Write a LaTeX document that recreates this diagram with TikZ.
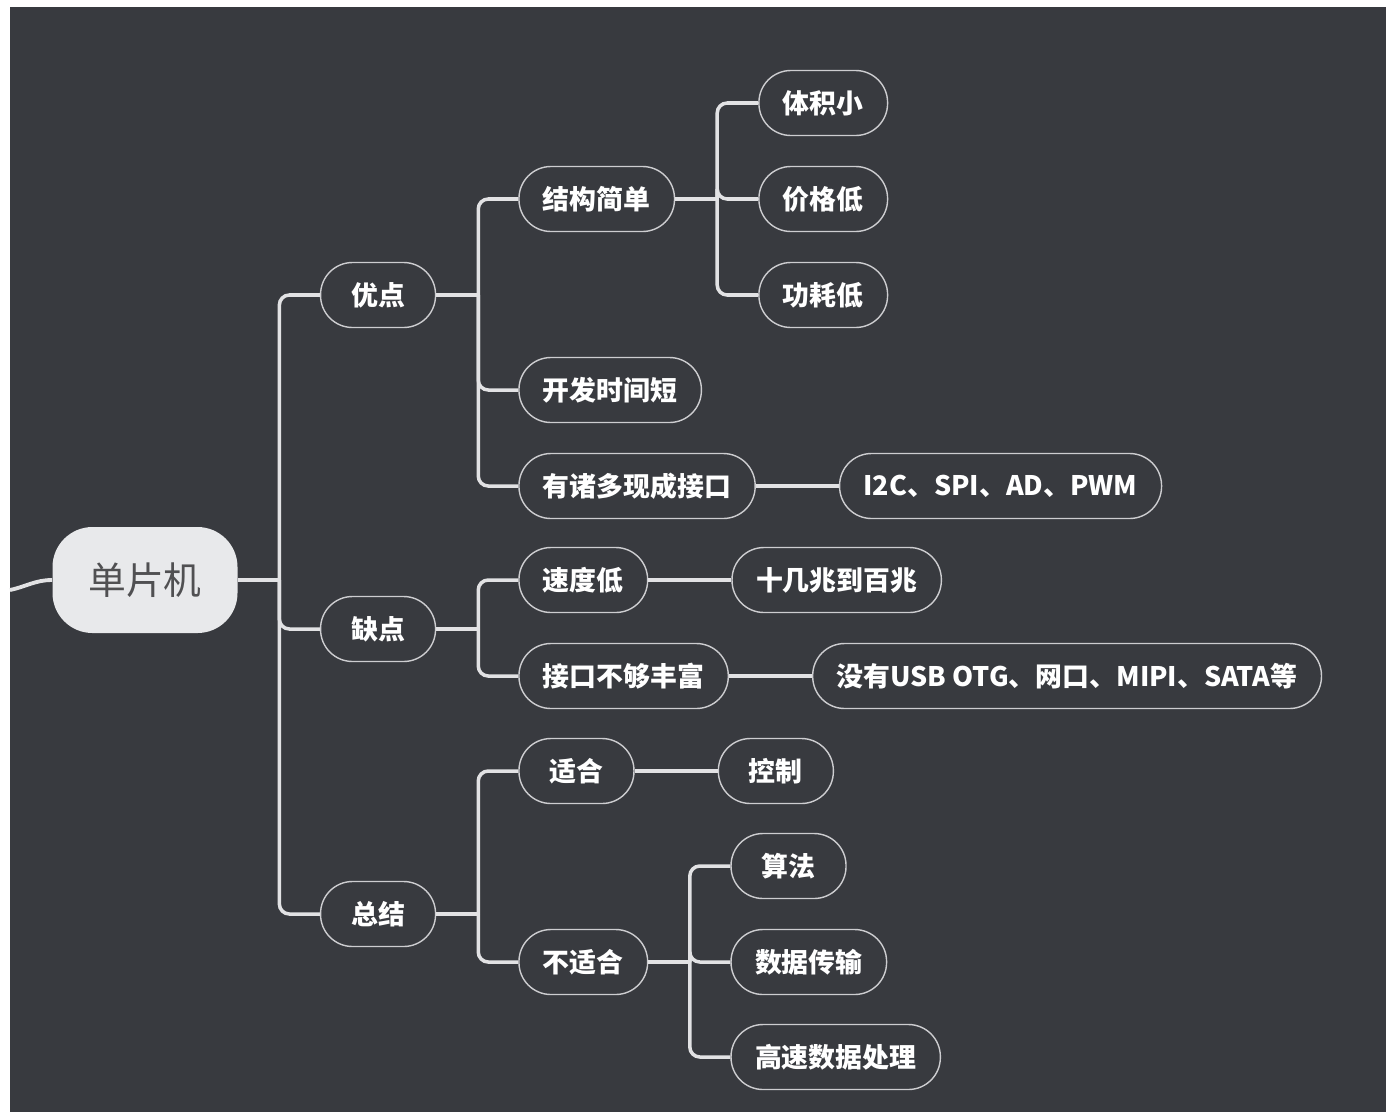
\documentclass[tikz,border=0pt]{standalone}
\usepackage{fontspec}
\setmainfont{Noto Sans CJK SC}
\usepackage{tikz}
\usetikzlibrary{positioning, calc, backgrounds}
\definecolor{bgdark}{RGB}{56,58,63}
\definecolor{rootfill}{RGB}{232,233,235}
\definecolor{roottext}{RGB}{80,80,82}
\definecolor{linegray}{RGB}{226,226,228}
\definecolor{bordergray}{RGB}{205,205,208}
\tikzset{
	root_topic/.style={rectangle, fill=rootfill, text=roottext, rounded corners=0.8cm, minimum width=3.7cm, minimum height=2.12cm, font=\fontsize{21.5}{24}\selectfont},
	topic/.style={rectangle, draw=bordergray, line width=0.8pt, text=white, rounded corners=0.64cm, minimum width=2.3cm, minimum height=1.3cm, inner xsep=0.48cm, font=\fontsize{15.3}{18}\selectfont\bfseries},
	conn_branch/.style={draw=linegray, line width=2pt, rounded corners=0.2cm},
	conn_in/.style={draw=linegray, line width=2.2pt}
}

\begin{document}
\begin{tikzpicture}
	% canvas
	\fill[white] (0,0) rectangle (27.72,-22.34);
	\fill[bgdark] (0.2,-0.14) rectangle (27.72,-22.24);
	% central topic
	\node[root_topic] (mcu) at (2.9,-11.6) {单片机};
	\coordinate (in) at (0.2,-11.8);
	\node[topic, right=1.64cm of mcu, yshift=5.7cm] (pro) {优点};
	\node[topic, right=1.64cm of mcu, yshift=-0.98cm] (con) {缺点};
	\node[topic, right=1.64cm of mcu, yshift=-6.68cm] (sum) {总结};
	% second level
	\node[topic, right=1.64cm of pro, yshift=1.92cm] (simple) {结构简单};
	\node[topic, right=1.64cm of pro, yshift=-1.9cm] (fast) {开发时间短};
	\node[topic, right=1.64cm of pro, yshift=-3.82cm] (ifc) {有诸多现成接口};
	\node[topic, right=1.64cm of con, yshift=0.98cm] (slow) {速度低};
	\node[topic, right=1.64cm of con, yshift=-0.94cm] (few) {接口不够丰富};
	\node[topic, right=1.64cm of sum, yshift=2.86cm] (suit) {适合};
	\node[topic, right=1.64cm of sum, yshift=-0.96cm] (unsuit) {不适合};
	% third level
	\node[topic, right=1.66cm of simple, yshift=1.92cm] (small) {体积小};
	\node[topic, right=1.66cm of simple] (cheap) {价格低};
	\node[topic, right=1.66cm of simple, yshift=-1.92cm] (lowpow) {功耗低};
	\node[topic, right=1.66cm of ifc] (ifclist) {I2C、SPI、AD、PWM};
	\node[topic, right=1.66cm of slow] (rate) {十几兆到百兆};
	\node[topic, right=1.66cm of few] (lack) {没有USB OTG、网口、MIPI、SATA等};
	\node[topic, right=1.66cm of suit] (ctrl) {控制};
	\node[topic, right=1.64cm of unsuit, yshift=1.92cm] (algo) {算法};
	\node[topic, right=1.64cm of unsuit] (trans) {数据传输};
	\node[topic, right=1.64cm of unsuit, yshift=-1.9cm] (hsproc) {高速数据处理};
	% junctions
	\coordinate (mcu_j) at ($(mcu.east)+(0.83,0)$);
	\coordinate (pro_j) at ($(pro.east)+(0.84,0)$);
	\coordinate (con_j) at ($(con.east)+(0.84,0)$);
	\coordinate (sum_j) at ($(sum.east)+(0.84,0)$);
	\coordinate (simple_j) at ($(simple.east)+(0.84,0)$);
	\coordinate (unsuit_j) at ($(unsuit.east)+(0.83,0)$);
	% branches
	\draw[conn_in] (in) to[out=12, in=180] (mcu.west);
	\foreach \p in {mcu, pro, con, sum, simple, unsuit}
		\draw[conn_branch] (\p.east) -- (\p_j);
	\foreach \c in {pro, con, sum}
		\draw[conn_branch] (mcu_j) |- (\c.west);
	\foreach \c in {simple, fast, ifc}
		\draw[conn_branch] (pro_j) |- (\c.west);
	\foreach \c in {slow, few}
		\draw[conn_branch] (con_j) |- (\c.west);
	\foreach \c in {suit, unsuit}
		\draw[conn_branch] (sum_j) |- (\c.west);
	\foreach \c in {small, cheap, lowpow}
		\draw[conn_branch] (simple_j) |- (\c.west);
	\foreach \c in {algo, trans, hsproc}
		\draw[conn_branch] (unsuit_j) |- (\c.west);
	\draw[conn_branch] (ifc.east) -- (ifclist.west);
	\draw[conn_branch] (slow.east) -- (rate.west);
	\draw[conn_branch] (few.east) -- (lack.west);
	\draw[conn_branch] (suit.east) -- (ctrl.west);
\end{tikzpicture}
\end{document}
